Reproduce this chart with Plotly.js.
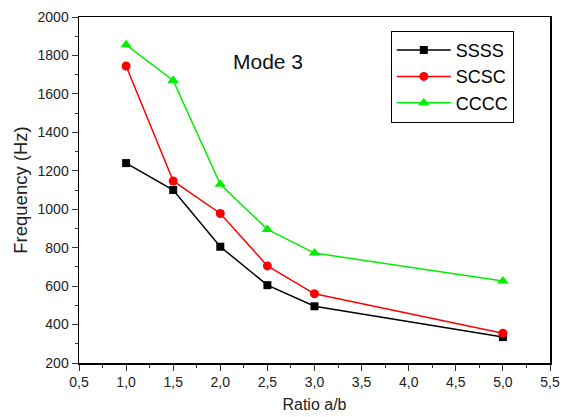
<!DOCTYPE html>
<html><head><meta charset="utf-8">
<script src="https://cdn.plot.ly/plotly-3.0.1.min.js"></script>
<style>html,body{margin:0;padding:0;background:#fff}</style>
</head><body><div id="chart" style="width:561px;height:417px"></div>
<script>
const ratios = [1.0, 1.5, 2.0, 2.5, 3.0, 5.0];
const ssss = [1240, 1100, 805, 605, 495, 335];
const scsc = [1745, 1147, 978, 705, 560, 355];
const cccc = [1855, 1670, 1130, 895, 772, 627];
const seriesNames = ['SSSS', 'SCSC', 'CCCC'];

const mk = (y, name, color, symbol, size) => ({
  x: ratios, y: y, name: name, type: 'scatter', mode: 'lines+markers',
  line: {color: color, width: 1.5},
  marker: {color: color, symbol: symbol, size: size}
});
const data = [
  mk(ssss, seriesNames[0], '#000000', 'square', 8),
  mk(scsc, seriesNames[1], '#ff0000', 'circle', 9),
  mk(cccc, seriesNames[2], '#00ee00', 'triangle-up', 10)
];
const fontFam = 'Liberation Sans, Arial, sans-serif';
const layout = {
  width: 561, height: 417,
  margin: {l: 79, r: 11, t: 17, b: 54},
  separators: ',.',
  paper_bgcolor: '#fff', plot_bgcolor: '#fff',
  font: {family: fontFam, color: '#222', size: 14},
  showlegend: true,
  legend: {x: 0.662, y: 0.96, xanchor: 'left', yanchor: 'top',
    bordercolor: '#000', borderwidth: 1, bgcolor: '#fff', itemwidth: 54,
    font: {size: 18, color: '#000'}, tracegroupgap: 0},
  xaxis: {range: [0.5, 5.5], dtick: 0.5, tick0: 0.5, tickformat: '.1f',
    showgrid: false, zeroline: false, showline: true, linecolor: '#000', linewidth: 1.5,
    mirror: true, ticks: 'outside', ticklen: 6, tickcolor: '#333',
    minor: {dtick: 0.25, ticks: 'outside', ticklen: 3, tickcolor: '#333', showgrid: false},
    title: {text: 'Ratio a/b', font: {size: 16, color: '#222'}, standoff: 9}},
  yaxis: {range: [200, 2000], dtick: 200, tick0: 200,
    showgrid: false, zeroline: false, showline: true, linecolor: '#000', linewidth: 1.5,
    mirror: true, ticks: 'outside', ticklen: 6, tickcolor: '#333',
    minor: {dtick: 100, ticks: 'outside', ticklen: 3, tickcolor: '#333', showgrid: false},
    title: {text: 'Frequency (Hz)', font: {size: 18.5, color: '#222'}, standoff: 5}},
  annotations: [{x: 2.51, y: 1768, xref: 'x', yref: 'y', text: 'Mode 3', showarrow: false,
    font: {size: 21, color: '#111', family: fontFam}}]
};
Plotly.newPlot('chart', data, layout, {displayModeBar: false, staticPlot: true});
</script></body></html>
